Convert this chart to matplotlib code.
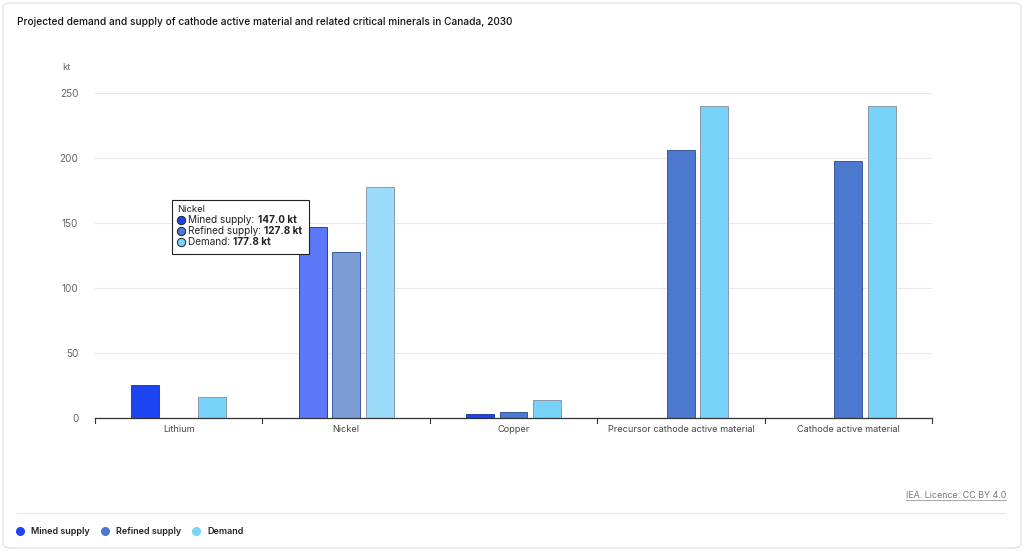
"""
Projected demand and supply of cathode active material and related critical minerals in Canada, 2030.
"""

import matplotlib
matplotlib.use("Agg")
import matplotlib.pyplot as plt
import numpy as np
from matplotlib.patches import FancyBboxPatch, Rectangle
from matplotlib.lines import Line2D

plt.rcParams['font.family'] = ['Inter', 'DejaVu Sans']

# --- DATA (kt) ---
CATEGORIES = ["Lithium", "Nickel", "Copper",
              "Precursor cathode active material", "Cathode active material"]
MINED = [25.3, 147.0, 3.0, 0, 0]
REFINED = [0, 127.8, 4.5, 206.0, 197.5]
DEMAND = [16.2, 177.8, 13.8, 240.0, 240.0]
SERIES = ["Mined supply", "Refined supply", "Demand"]
YTICKS = [0, 50, 100, 150, 200, 250]

COLORS = ["#1c44f0", "#4d78d0", "#78d2fa"]
EDGES = ["#2a3fa8", "#3a5a9e", "#8a9aa6"]
HOVER = ["#5a78f8", "#7c9cd8", "#9bdcfa"]   # highlighted (Nickel) bars
HOVER_IDX = 1

W, H = 1024, 552
fig = plt.figure(figsize=(W / 100, H / 100), dpi=100)


def px(x, y):
    return x / W, 1 - y / H


# card background
fig.patches.append(FancyBboxPatch(px(3, 548), 1018 / W, 545 / H,
                                  boxstyle="round,pad=0,rounding_size=0.008",
                                  transform=fig.transFigure, fc="white",
                                  ec="#dddddd", lw=0.8, zorder=-10))

x0, y0 = px(95, 418)
x1, y1 = px(932, 93)
ax = fig.add_axes([x0, y0, x1 - x0, y1 - y0])
ax.patch.set_alpha(0)

x = np.arange(len(CATEGORIES))
offsets = [-0.2, 0.0, 0.2]
for s, vals in enumerate([MINED, REFINED, DEMAND]):
    fcs = [HOVER[s] if i == HOVER_IDX else COLORS[s] for i in range(len(vals))]
    ax.bar(x + offsets[s], vals, width=0.167, color=fcs,
           edgecolor=EDGES[s], linewidth=0.7, zorder=3)

ax.set_xlim(-0.5, len(CATEGORIES) - 0.5)
ax.set_ylim(0, 250)
ax.set_yticks(YTICKS)
ax.set_yticklabels([str(v) for v in YTICKS], color="#666666", fontsize=7.2)
ax.grid(axis="y", color="#e8e8e8", linewidth=0.8, zorder=0)
ax.set_axisbelow(True)
ax.tick_params(axis="y", length=0, pad=12)

ax.set_xticks(x)
ax.set_xticklabels(CATEGORIES, fontsize=6.6, color="#444444")
ax.tick_params(axis="x", length=0, pad=5)
for b in np.arange(-0.5, len(CATEGORIES), 1.0):
    ax.plot([b, b], [0, -4], color="#333333", lw=0.8, clip_on=False,
            transform=ax.transData, zorder=4)

for side in ["top", "right", "left"]:
    ax.spines[side].set_visible(False)
ax.spines["bottom"].set_color("#333333")
ax.spines["bottom"].set_linewidth(0.9)
ax.spines["bottom"].set_zorder(5)

# titles
fig.text(*px(17, 22), "Projected demand and supply of cathode active material and related critical minerals in Canada, 2030",
         fontsize=7.3, fontweight="medium", va="center", ha="left", color="#111111")
fig.text(*px(62, 68), "kt", fontsize=6.8, color="#666666", va="center")

# tooltip
fig.patches.append(Rectangle(px(172, 254), 137 / W, 54 / H, transform=fig.transFigure,
                             fc="white", ec="#222222", lw=0.8, zorder=10))
fig.text(*px(177, 210), CATEGORIES[HOVER_IDX], fontsize=6.8, color="#222222",
         va="center", zorder=11)
fig.canvas.draw()
renderer = fig.canvas.get_renderer()
tip_vals = [MINED[HOVER_IDX], REFINED[HOVER_IDX], DEMAND[HOVER_IDX]]
for i, (name, v) in enumerate(zip(SERIES, tip_vals)):
    yy = 220 + i * 11
    fig.lines.append(Line2D([181 / W], [1 - yy / H], transform=fig.transFigure,
                            marker="o", ms=6, mfc=COLORS[i], mec="#222222",
                            mew=0.7, ls="none", zorder=11))
    t = fig.text(*px(188.5, yy), f"{name}: ", fontsize=7.2, color="#222222",
                 va="center", zorder=11)
    bb = t.get_window_extent(renderer)
    fig.text(bb.x1 / W, 1 - yy / H, f"{v:.1f} kt", fontsize=7.2, fontweight="bold",
             color="#222222", va="center", zorder=11)

# footer
lic = fig.text(*px(1006, 495), "IEA. Licence: CC BY 4.0", fontsize=6.4, color="#777777",
               ha="right", va="center")
lb = lic.get_window_extent(renderer)
fig.lines.append(Line2D([lb.x0 / W, lb.x1 / W], [1 - 500 / H, 1 - 500 / H],
                        transform=fig.transFigure, color="#999999", lw=0.6))
fig.lines.append(Line2D([17 / W, 1005 / W], [1 - 513 / H, 1 - 513 / H],
                        transform=fig.transFigure, color="#e6e6e6", lw=0.8))

leg_x = [20, 105, 196]
for i, name in enumerate(SERIES):
    fig.lines.append(Line2D([leg_x[i] / W], [1 - 531 / H], transform=fig.transFigure,
                            marker="o", ms=5.5, mfc=COLORS[i], mec=COLORS[i],
                            ls="none"))
    fig.text(*px(leg_x[i] + 11, 531), name, fontsize=6.5, fontweight="semibold",
             color="#222222", va="center")

fig.savefig("out.png", dpi=100)
